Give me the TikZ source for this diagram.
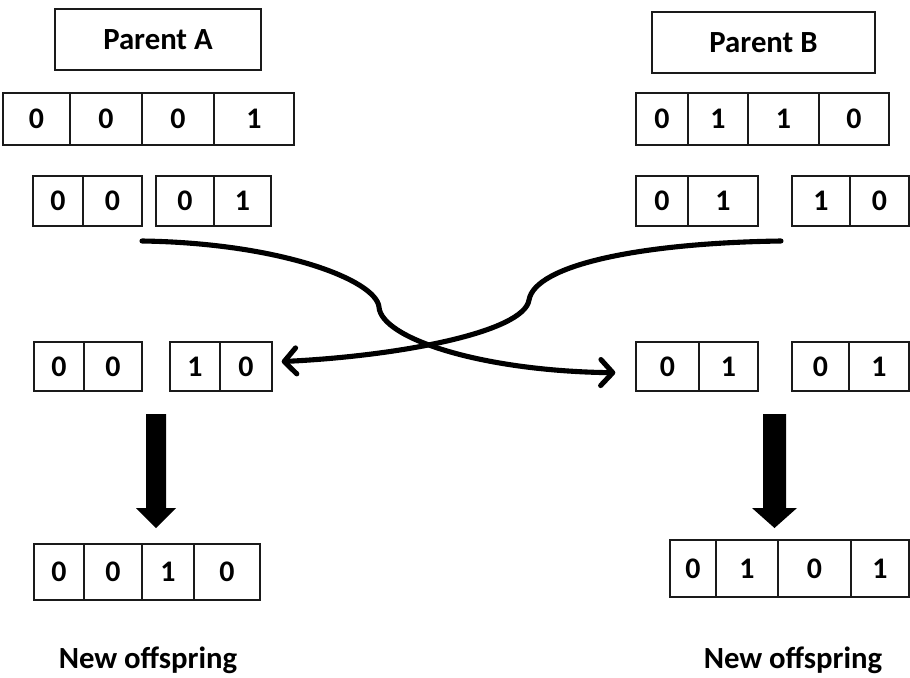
\documentclass[tikz,border=0pt]{standalone}
\usepackage{fontspec}
\setmainfont{Carlito}
\usepackage{xcolor}
\usetikzlibrary{arrows.meta}
\definecolor{ink}{HTML}{000000}
\definecolor{box-line}{HTML}{1A1A1A}

\begin{document}
\begin{tikzpicture}[
    cell/.style={draw=box-line, line width=0.75pt, inner sep=0pt,
                 font=\fontsize{17}{20}\selectfont\bfseries},
    parentbox/.style={draw=box-line, line width=0.75pt, minimum width=4.12cm,
                 minimum height=1.22cm, font=\fontsize{17.5}{20}\selectfont\bfseries},
    caption/.style={anchor=base, font=\fontsize{17.5}{20}\selectfont\bfseries},
    cross/.style={line width=2.9pt, color=ink, line cap=round,
                 -{Straight Barb[length=0.24cm, width=0.52cm, line width=0pt 1, round]}}]
    \useasboundingbox (0,0) rectangle (18.2,-13.56);

    % parents
    \node[parentbox] (parA) at (3.16,-0.79) {Parent A};
    \node[parentbox, minimum width=4.46cm] (parB) at (15.27,-0.85) {Parent B};

    % parent A chromosome
    \node[cell, minimum width=1.34cm, minimum height=1.04cm] (a1a) at (0.73,-2.38) {0};
    \node[cell, minimum width=1.44cm, minimum height=1.04cm] (a1b) at (2.12,-2.38) {0};
    \node[cell, minimum width=1.44cm, minimum height=1.04cm] (a1c) at (3.56,-2.38) {0};
    \node[cell, minimum width=1.60cm, minimum height=1.04cm] (a1d) at (5.08,-2.38) {1};

    % parent B chromosome
    \node[cell, minimum width=1.04cm, minimum height=1.04cm] (b1a) at (13.24,-2.38) {0};
    \node[cell, minimum width=1.20cm, minimum height=1.04cm] (b1b) at (14.36,-2.38) {1};
    \node[cell, minimum width=1.42cm, minimum height=1.04cm] (b1c) at (15.67,-2.38) {1};
    \node[cell, minimum width=1.40cm, minimum height=1.04cm] (b1d) at (17.08,-2.38) {0};

    % cut in the middle
    \node[cell, minimum width=1.00cm, minimum height=1.00cm] (a2a) at (1.16,-4.02) {0};
    \node[cell, minimum width=1.18cm, minimum height=1.00cm] (a2b) at (2.25,-4.02) {0};
    \node[cell, minimum width=1.16cm, minimum height=1.00cm] (a2c) at (3.70,-4.02) {0};
    \node[cell, minimum width=1.14cm, minimum height=1.00cm] (a2d) at (4.85,-4.02) {1};

    \node[cell, minimum width=1.04cm, minimum height=1.00cm] (b2a) at (13.24,-4.02) {0};
    \node[cell, minimum width=1.40cm, minimum height=1.00cm] (b2b) at (14.46,-4.02) {1};
    \node[cell, minimum width=1.16cm, minimum height=1.00cm] (b2c) at (16.42,-4.02) {1};
    \node[cell, minimum width=1.18cm, minimum height=1.00cm] (b2d) at (17.59,-4.02) {0};

    % after the swap
    \node[cell, minimum width=1.00cm, minimum height=0.98cm] (a3a) at (1.18,-7.33) {0};
    \node[cell, minimum width=1.16cm, minimum height=0.98cm] (a3b) at (2.26,-7.33) {0};
    \node[cell, minimum width=1.00cm, minimum height=0.98cm] (a3c) at (3.90,-7.33) {1};
    \node[cell, minimum width=1.04cm, minimum height=0.98cm] (a3d) at (4.92,-7.33) {0};

    \node[cell, minimum width=1.26cm, minimum height=0.98cm] (b3a) at (13.35,-7.33) {0};
    \node[cell, minimum width=1.18cm, minimum height=0.98cm] (b3b) at (14.57,-7.33) {1};
    \node[cell, minimum width=1.14cm, minimum height=0.98cm] (b3c) at (16.41,-7.33) {0};
    \node[cell, minimum width=1.20cm, minimum height=0.98cm] (b3d) at (17.58,-7.33) {1};

    % offspring
    \node[cell, minimum width=1.00cm, minimum height=1.12cm] (a4a) at (1.18,-11.44) {0};
    \node[cell, minimum width=1.16cm, minimum height=1.12cm] (a4b) at (2.26,-11.44) {0};
    \node[cell, minimum width=1.04cm, minimum height=1.12cm] (a4c) at (3.36,-11.44) {1};
    \node[cell, minimum width=1.32cm, minimum height=1.12cm] (a4d) at (4.54,-11.44) {0};

    \node[cell, minimum width=0.92cm, minimum height=1.14cm] (b4a) at (13.86,-11.37) {0};
    \node[cell, minimum width=1.24cm, minimum height=1.14cm] (b4b) at (14.94,-11.37) {1};
    \node[cell, minimum width=1.46cm, minimum height=1.14cm] (b4c) at (16.29,-11.37) {0};
    \node[cell, minimum width=1.16cm, minimum height=1.14cm] (b4d) at (17.60,-11.37) {1};

    \node[caption] (newA) at (2.96,-13.36) {New offspring};
    \node[caption] (newB) at (15.86,-13.36) {New offspring};

    % crossing arrows
    \coordinate (cutA) at (2.84,-4.82);
    \coordinate (cutB) at (15.62,-4.82);
    \draw[cross, shorten >=0.4cm] (cutA) .. controls (5.6,-4.86) and (7.52,-5.6) .. (7.58,-6.14)
      .. controls (7.62,-6.76) and (9.6,-7.42) .. ([yshift=-0.13cm]b3a.west);
    \draw[cross, shorten >=0.18cm] (cutB) .. controls (12.8,-4.86) and (10.7,-5.3) .. (10.58,-6.0)
      .. controls (10.48,-6.64) and (8.0,-7.12) .. ([yshift=0.09cm]a3d.east);

    % block arrows down
    \fill[ink] (2.92,-8.28) -- (3.32,-8.28) -- (3.32,-10.16) -- (3.52,-10.16)
      -- (3.12,-10.56) -- (2.72,-10.16) -- (2.92,-10.16) -- cycle;
    \fill[ink] (15.26,-8.28) -- (15.72,-8.28) -- (15.72,-10.16) -- (15.94,-10.16)
      -- (15.49,-10.56) -- (15.04,-10.16) -- (15.26,-10.16) -- cycle;
\end{tikzpicture}
\end{document}
